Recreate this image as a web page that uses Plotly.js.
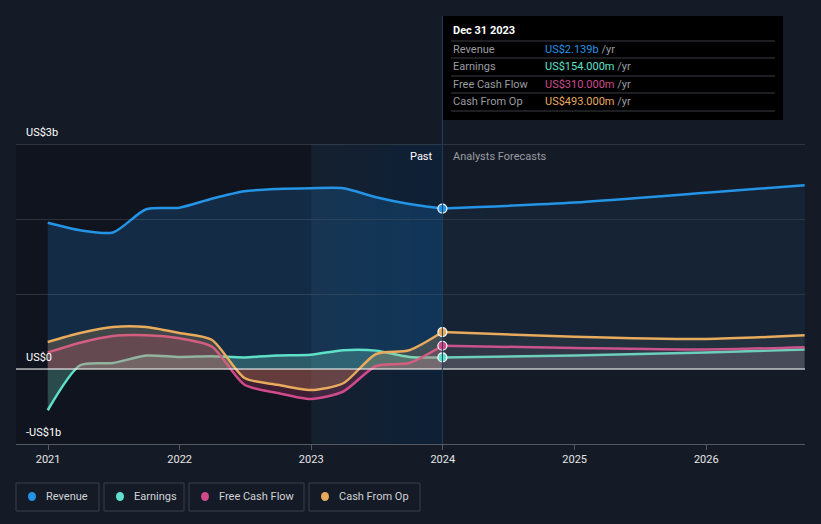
<!DOCTYPE html>
<html>
<head>
<meta charset="utf-8">
<script src="https://cdn.plot.ly/plotly-3.0.1.min.js"></script>
<style>html,body{margin:0;padding:0;background:#151b26;}#chart{width:821px;height:524px;}</style>
</head>
<body>
<div id="chart"></div>
<script>
// ---- data (values in US$ billions) ----
const pastDates = ['2020-12-31','2021-03-31','2021-06-30','2021-09-30','2021-12-31','2022-03-31','2022-06-30','2022-09-30','2022-12-31','2023-03-31','2023-06-30','2023-09-30','2023-12-31'];
const revenuePast  = [1.95,1.85,1.82,2.13,2.15,2.27,2.37,2.40,2.41,2.41,2.29,2.20,2.139];
const earningsPast = [-0.55,0.05,0.08,0.18,0.16,0.17,0.155,0.18,0.19,0.25,0.245,0.16,0.154];
const fcfPast      = [0.22,0.35,0.44,0.45,0.41,0.30,-0.21,-0.32,-0.40,-0.30,0.04,0.08,0.31];
const cfoPast      = [0.36,0.48,0.56,0.56,0.48,0.39,-0.12,-0.21,-0.28,-0.19,0.20,0.25,0.493];

const forecastDates = ['2023-12-31','2024-12-31','2025-12-31','2026-10-01'];
const revenueFc  = [2.139,2.22,2.35,2.45];
const earningsFc = [0.154,0.18,0.22,0.26];
const fcfFc      = [0.31,0.28,0.26,0.29];
const cfoFc      = [0.493,0.43,0.40,0.45];

const seriesNames = ['Revenue','Earnings','Free Cash Flow','Cash From Op'];
const tooltipDate = 'Dec 31 2023';
const tooltipValues = ['US$2.139b','US$154.000m','US$310.000m','US$493.000m'];
const yLabels = [{v:3,t:'US$3b'},{v:0,t:'US$0'},{v:-1,t:'-US$1b'}];

// ---- styling ----
const colors = ['#2394e6','#5fe0c8','#cf4a8b','#e8aa5c'];
const pastFill = ['rgba(33,150,243,0.18)','rgba(120,230,210,0.26)','rgba(200,60,110,0.25)','rgba(232,170,92,0.22)'];
const fcFill = ['rgba(33,110,190,0.10)','rgba(170,180,190,0.18)','rgba(170,110,140,0.10)','rgba(170,170,150,0.10)'];
const pastData = [revenuePast, earningsPast, fcfPast, cfoPast];
const fcData = [revenueFc, earningsFc, fcfFc, cfoFc];

const W = 821, H = 524, L = 16, R = 16, T = 144, B = 80;
const pw = W - L - R, ph = H - T - B;
const px = x => (x - L) / pw;
const py = y => (H - B - y) / ph;

const traces = [];
for (let i = 0; i < 4; i++) {
  traces.push({x: pastDates, y: pastData[i], type:'scatter', mode:'lines', fill:'tozeroy', fillcolor: pastFill[i],
    line:{color: colors[i], width:2.5, shape:'spline', smoothing:0.7}, hoverinfo:'skip', showlegend:false});
  traces.push({x: forecastDates, y: fcData[i], type:'scatter', mode:'lines', fill:'tozeroy', fillcolor: fcFill[i],
    line:{color: colors[i], width:2.5, shape:'spline', smoothing:0.7}, hoverinfo:'skip', showlegend:false});
}
for (let i = 0; i < 4; i++) {
  traces.push({x:[pastDates[pastDates.length-1]], y:[pastData[i][pastData[i].length-1]], type:'scatter', mode:'markers',
    marker:{color: colors[i], size:9, line:{color:'#ffffff', width:1.2}}, hoverinfo:'skip', showlegend:false});
}

const shapes = [
  // darker past region
  {type:'rect', xref:'x', yref:'paper', x0:'2020-10-04', x1:'2023-01-01', y0:0, y1:1, fillcolor:'rgba(5,8,12,0.30)', line:{width:0}, layer:'below'},
  // highlighted last-year band
  {type:'rect', xref:'x', yref:'paper', x0:'2023-01-01', x1:'2023-12-31', y0:0, y1:1, fillcolor:'rgba(30,120,200,0.06)', line:{width:0}, layer:'below'},
];
// gentle gradient inside the band (many faint overlapping strips)
const bandStarts = ['2023-02-15','2023-04-01','2023-05-15','2023-07-01','2023-08-15','2023-10-01','2023-11-15'];
bandStarts.forEach(s => shapes.push({type:'rect', xref:'x', yref:'paper', x0:s, x1:'2023-12-31', y0:0, y1:1,
  fillcolor:'rgba(30,120,200,0.008)', line:{width:0}, layer:'below'}));
shapes.push(
  // top gridline (lighter)
  {type:'line', xref:'paper', yref:'y', x0:0, x1:1, y0:3, y1:3, line:{color:'#4a5059', width:1}},
  // zero line
  {type:'line', xref:'paper', yref:'y', x0:0, x1:1, y0:0, y1:0, line:{color:'#ffffff', width:1.2}},
  // vertical divider
  {type:'line', xref:'x', yref:'paper', x0:'2023-12-31', x1:'2023-12-31', y0:0, y1:py(16), line:{color:'#1f3f5f', width:1}},
  // tooltip box
  {type:'rect', xref:'paper', yref:'paper', x0:px(443), x1:px(783), y0:py(120), y1:py(16), fillcolor:'#000000', line:{width:0}}
);
[41,58,76,93,111].forEach(y => shapes.push({type:'line', xref:'paper', yref:'paper', x0:px(451), x1:px(775), y0:py(y), y1:py(y), line:{color:'#3a3d42', width:1}}));

const annotations = [];
yLabels.forEach(l => annotations.push({xref:'paper', yref:'y', x:px(24), y:l.v, yshift:12, text:l.t, showarrow:false,
  xanchor:'left', yanchor:'middle', font:{color:'#ffffff', size:11, family:'Roboto, sans-serif'}}));
annotations.push({xref:'paper', yref:'paper', x:px(435), y:py(156), text:'Past', showarrow:false, xanchor:'right', yanchor:'middle',
  font:{color:'#ffffff', size:11, family:'Roboto, sans-serif'}});
annotations.push({xref:'paper', yref:'paper', x:px(451), y:py(156), text:'Analysts Forecasts', showarrow:false, xanchor:'left', yanchor:'middle',
  font:{color:'#9a9ca0', size:11, family:'Roboto, sans-serif'}});
// tooltip text
annotations.push({xref:'paper', yref:'paper', x:px(451), y:py(31), text:'<b>'+tooltipDate+'</b>', showarrow:false, xanchor:'left', yanchor:'middle',
  font:{color:'#ffffff', size:11, family:'Roboto, sans-serif'}});
const rowY = [49,66,84,101];
for (let i = 0; i < 4; i++) {
  annotations.push({xref:'paper', yref:'paper', x:px(451), y:py(rowY[i]), text:seriesNames[i], showarrow:false, xanchor:'left', yanchor:'middle',
    font:{color:'#9a9ca0', size:11, family:'Roboto, sans-serif'}});
  annotations.push({xref:'paper', yref:'paper', x:px(543), y:py(rowY[i]), text:'<span style="color:'+colors[i]+'">'+tooltipValues[i]+'</span> /yr', showarrow:false,
    xanchor:'left', yanchor:'middle', font:{color:'#9a9ca0', size:11, family:'Roboto, sans-serif'}});
}
// custom legend
const legBoxes = [[16,99],[104,184],[189,304],[309,420]];
for (let i = 0; i < 4; i++) {
  const [a,b] = legBoxes[i];
  shapes.push({type:'rect', xref:'paper', yref:'paper', x0:px(a), x1:px(b), y0:py(511), y1:py(483), fillcolor:'rgba(0,0,0,0)', line:{color:'#3a3f48', width:1}});
  shapes.push({type:'circle', xref:'paper', yref:'paper', x0:px(a+12), x1:px(a+20), y0:py(501), y1:py(492), fillcolor:colors[i], line:{width:0}});
  annotations.push({xref:'paper', yref:'paper', x:px(a+28), y:py(496), text:seriesNames[i], showarrow:false, xanchor:'left', yanchor:'middle',
    font:{color:'#d0d2d6', size:11, family:'Roboto, sans-serif'}});
}

const layout = {
  width:W, height:H, margin:{l:L, r:R, t:T, b:B},
  paper_bgcolor:'#151b26', plot_bgcolor:'rgba(0,0,0,0)',
  showlegend:false,
  xaxis:{type:'date', range:['2020-10-04','2026-10-02'], tickvals:['2021-01-01','2022-01-01','2023-01-01','2024-01-01','2025-01-01','2026-01-01'],
    ticktext:['2021','2022','2023','2024','2025','2026'], showgrid:false, zeroline:false,
    showline:true, linecolor:'#555a62', linewidth:1, ticks:'outside', ticklen:5, tickcolor:'#555a62',
    tickfont:{color:'#e6e6e6', size:11, family:'Roboto, sans-serif'}, fixedrange:true},
  yaxis:{range:[-1,3], tickvals:[-1,0,1,2,3], showticklabels:false, showgrid:true, gridcolor:'#2c323c', gridwidth:1, zeroline:false, fixedrange:true},
  shapes: shapes,
  annotations: annotations
};

Plotly.newPlot('chart', traces, layout, {displayModeBar:false, staticPlot:true});
</script>
</body>
</html>
